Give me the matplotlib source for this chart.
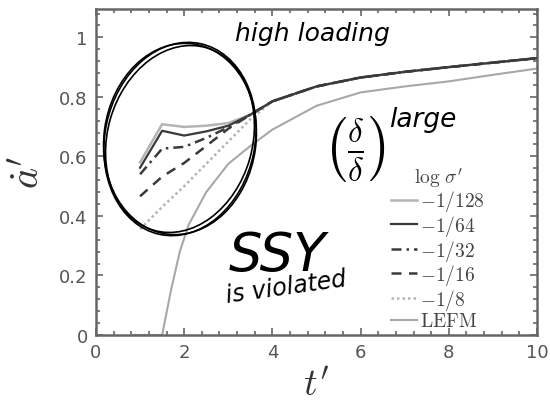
import matplotlib.pyplot as plt
from matplotlib.patches import Ellipse
from matplotlib.ticker import MultipleLocator

# crack-tip speed curves
t_sig = [1.0, 1.5, 2.0, 2.5, 3.0, 3.5, 4.0, 5.0, 6.0, 7.0, 8.0, 9.0, 10.0]
tail = [0.740, 0.785, 0.835, 0.865, 0.884, 0.900, 0.915, 0.930]
a_128 = [0.580, 0.708, 0.699, 0.703, 0.712] + tail
a_64 = [0.562, 0.686, 0.670, 0.684, 0.703] + tail
a_32 = [0.540, 0.626, 0.632, 0.662, 0.698] + tail
a_16 = [0.466, 0.532, 0.578, 0.635, 0.693] + tail
a_8 = [0.356, 0.430, 0.500, 0.575, 0.650, 0.725, 0.785, 0.835, 0.865, 0.884, 0.900, 0.915, 0.930]

t_lefm = [0.8, 1.5, 1.7, 1.9, 2.1, 2.5, 3.0, 3.5, 4.0, 5.0, 6.0, 7.0, 8.0, 9.0, 10.0]
a_lefm = [0.0, 0.0, 0.15, 0.28, 0.37, 0.48, 0.575, 0.635, 0.69, 0.77, 0.815, 0.835, 0.852, 0.874, 0.895]

labels = [r"$-1/128$", r"$-1/64$", r"$-1/32$", r"$-1/16$", r"$-1/8$", r"$\mathrm{LEFM}$"]

plt.rcParams["mathtext.fontset"] = "cm"

fig = plt.figure(figsize=(5.5, 4.1), dpi=100)
ax = fig.add_axes([0.1745, 0.1805, 0.802, 0.795])

dark = "#3a3a3a"
light = "#b4b4b4"
ax.plot(t_sig, a_128, color=light, lw=1.8, label=labels[0], zorder=2)
ax.plot(t_sig, a_64, color=dark, lw=1.6, label=labels[1], zorder=4)
ax.plot(t_sig, a_32, color=dark, lw=1.8, dashes=(4, 2, 1, 2), label=labels[2], zorder=4)
ax.plot(t_sig, a_16, color=dark, lw=1.8, dashes=(4, 3), label=labels[3], zorder=4)
ax.plot(t_sig, a_8, color=light, lw=1.8, dashes=(1, 1.2), label=labels[4], zorder=2)
ax.plot(t_lefm, a_lefm, color="#a8a8a8", lw=1.5, label=labels[5], zorder=2)

ax.set_xlim(0, 10)
ax.set_ylim(0, 1.095)
ax.xaxis.set_minor_locator(MultipleLocator(0.4))
ax.yaxis.set_minor_locator(MultipleLocator(0.04))
ax.set_xticks([0, 2, 4, 6, 8, 10])
ax.set_xticklabels(["0", "2", "4", "6", "8", "10"])
ax.set_yticks([0, 0.2, 0.4, 0.6, 0.8, 1.0])
ax.set_yticklabels(["0", "0.2", "0.4", "0.6", "0.8", "1"])
ax.tick_params(which="both", direction="in", top=True, right=True,
               color="#666666", width=1.2, labelsize=13, labelcolor="#555555")
ax.tick_params(which="major", length=5, pad=6)
ax.tick_params(which="minor", length=3)
for s in ax.spines.values():
    s.set_color("#666666")
    s.set_linewidth(1.8)

ax.set_xlabel(r"$t'$", fontsize=27, color="#333333", labelpad=4)
ax.set_ylabel(r"$\dot{a}'$", fontsize=29, color="#333333", labelpad=8)

leg = ax.legend(loc="lower right", bbox_to_anchor=(0.90, -0.01), frameon=False,
                fontsize=14, title=r"$\log\,\sigma'$", title_fontsize=14,
                handlelength=1.35, handletextpad=0.15, labelspacing=-0.02,
                borderaxespad=0.0)
for txt in leg.get_texts():
    txt.set_color("#444444")
leg.get_title().set_color("#444444")

# handwritten notes over the chart
ink = "black"
for w, h, ang in [(1.95, 1.50, 78), (1.90, 1.45, 74), (1.92, 1.52, 82)]:
    ax.add_patch(Ellipse((1.80, 2.70), w, h, angle=ang, transform=fig.dpi_scale_trans,
                         fill=False, ec=ink, lw=1.2, zorder=5))
ax.text(0.315, 0.905, "high loading", transform=ax.transAxes, fontsize=18,
        style="italic", color=ink)
ax.text(0.515, 0.575, r"$\left(\frac{\delta}{\delta}\right)$", transform=ax.transAxes,
        fontsize=34, color=ink, va="center")
ax.text(0.665, 0.64, "large", transform=ax.transAxes, fontsize=19,
        style="italic", color=ink)
ax.text(0.30, 0.20, "SSY", transform=ax.transAxes, fontsize=38, style="italic", color=ink)
ax.text(0.29, 0.10, "is violated", transform=ax.transAxes, fontsize=17,
        style="italic", color=ink, rotation=8)

fig.savefig("out.png", dpi=100)
